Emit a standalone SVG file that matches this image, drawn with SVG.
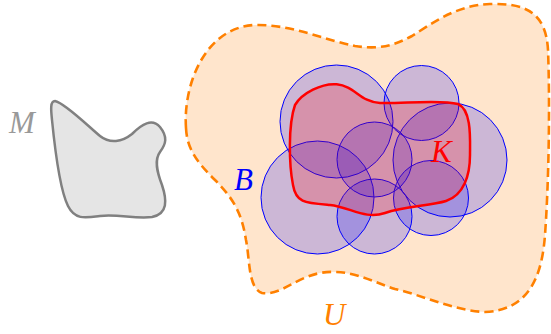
<svg xmlns="http://www.w3.org/2000/svg" width="551" height="334" viewBox="0 0 551 334">
<style>
.lbl{font-family:"Liberation Serif","DejaVu Serif",serif;font-style:italic;font-size:31px}
.ball{fill:rgba(0,0,255,0.2);stroke:#0000ff;stroke-width:1}
</style>
<rect width="551" height="334" fill="#ffffff"/>
<g id="M">
<path d="M 55,101 C 65,103 90,128 100,136 C 110,144 122,142 132,134 C 142,124 152,118 160,127 C 168,137 166,144 160,152 C 154,160 157,172 162,185 C 167,200 168,214 152,217 C 135,219 118,214 100,216 C 85,218 75,220 68,206 C 60,190 55,150 52,120 C 51,110 50,101 55,101 Z" fill="#e5e5e5" stroke="#808080" stroke-width="2.5"/>
<text class="lbl" x="9" y="133" fill="#999999">M</text>
</g>
<g id="U">
<path d="M 186,128 C 183,85 205,27 255,25 C 290,24 325,40 355,46 C 380,50 395,45 412,36 C 430,25 455,5 490,4 C 525,3 546,12 548,50 C 550,100 549,180 545,235 C 542,275 530,310 485,312 C 455,311 425,296 395,289 C 370,281 350,268 320,273 C 295,278 280,296 262,293 C 248,288 250,260 246,240 C 242,215 235,200 215,180 C 198,163 187,150 186,128 Z" fill="#ffe5cc" stroke="#ff8000" stroke-width="2.6" stroke-dasharray="9,5"/>
<text class="lbl" x="323" y="325" fill="#ff8000">U</text>
</g>
<g id="B">
<circle class="ball" cx="336.5" cy="121.5" r="56.5"/>
<circle class="ball" cx="421.5" cy="103" r="37.5"/>
<circle class="ball" cx="450" cy="160" r="57"/>
<circle class="ball" cx="374.5" cy="159.5" r="37.5"/>
<circle class="ball" cx="317.5" cy="197.5" r="56.5"/>
<circle class="ball" cx="374.5" cy="216.5" r="37.5"/>
<circle class="ball" cx="431" cy="198" r="37.5"/>
<text class="lbl" x="234" y="190" fill="#0000ff">B</text>
</g>
<g id="K">
<path d="M 336.7,84.3 C 355,86 360,102 380,103 C 400,104 440,99 458,104 C 472,110 470,140 470,155 C 470,175 464,195 446,201 C 430,206 405,206 385,213 C 365,220 350,207 330,205 C 305,203 296,203 293,185 C 289,165 288,125 295,105 C 302,93 322,83 336.7,84.3 Z" fill="rgba(255,0,0,0.2)" stroke="#ff0000" stroke-width="2.5"/>
<text class="lbl" x="431" y="162" fill="#ff0000">K</text>
</g>
</svg>
